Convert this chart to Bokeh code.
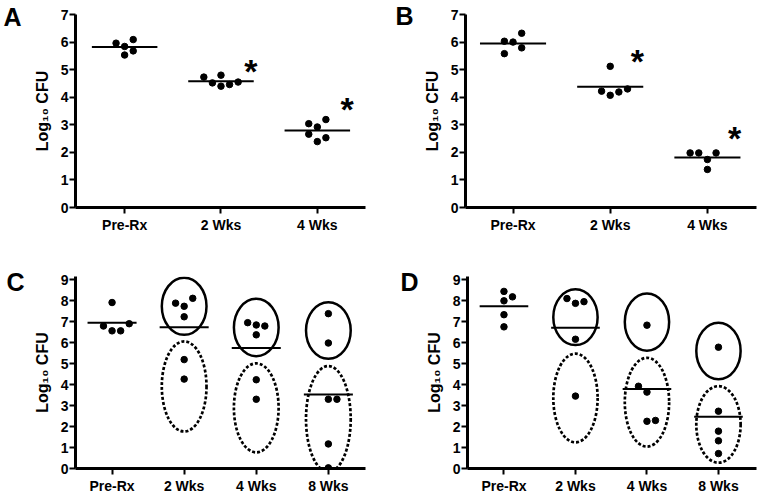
import numpy as np
from bokeh.plotting import figure
from bokeh.models import Range1d, FixedTicker
from bokeh.layouts import row, column
from bokeh.embed import file_html
from bokeh.resources import INLINE
from bokeh.core.properties import value

FONT = "Liberation Sans"

# ---------------- data ----------------
cats_ab = ["Pre-Rx", "2 Wks", "4 Wks"]
cats_cd = ["Pre-Rx", "2 Wks", "4 Wks", "8 Wks"]
y_label = "Log\u2081\u2080 CFU"
panel_letters = ["A", "B", "C", "D"]

# Panel A
a_pre = [5.96, 6.09, 5.84, 5.53, 5.68]
a_2wk = [4.73, 4.52, 4.80, 4.40, 4.46, 4.55]
a_4wk = [3.04, 2.92, 3.19, 2.66, 2.39, 2.53]
a_spread = [[-1, 1, 0, 0, 1], [-2, -1, 0, 0, 1, 2], [-1, 0, 1, -1, 0, 1]]
a_star_groups = [2, 3]
a_star_y = [5.18, 3.78]

# Panel B
b_pre = [6.03, 6.00, 6.32, 5.58, 5.79]
b_2wk = [5.12, 4.22, 4.07, 4.19, 4.30]
b_4wk = [1.98, 1.98, 1.74, 1.98, 1.38]
b_spread = [[-1, 0, 1, -1, 1], [0, -1, 0, 1, 2], [-2, -1, 0, 1, 0]]
b_star_groups = [2, 3]
b_star_y = [5.52, 2.74]

# Panel C
c_pre = [7.91, 6.79, 6.56, 6.56, 6.90]
c_2wk = [7.88, 7.73, 8.11, 7.23, 5.19, 4.26]
c_4wk = [6.95, 6.84, 6.79, 6.37, 4.23, 3.30]
c_8wk = [7.38, 5.98, 3.30, 3.30, 1.17, 0.03]
c_spread = [[0, -1, 0, 1, 2], [-1, 0, 1, 0, 0, 0], [-1, 0, 1, 0, 0, 0], [0, 0, 0, 1, 0, 0]]
c_ell_groups = [2, 3, 4]
c_resp_center = [7.73, 6.72, 6.58]
c_resp_height = [2.72, 2.74, 2.70]
c_nonresp_center = [3.91, 2.89, 2.36]
c_nonresp_height = [4.29, 4.24, 5.05]

# Panel D
d_pre = [8.44, 8.18, 7.99, 7.33, 6.75]
d_2wk = [8.10, 7.87, 7.95, 6.16, 3.45]
d_4wk = [6.83, 3.92, 3.64, 2.25, 2.29]
d_8wk = [5.78, 2.73, 1.78, 1.32, 0.71]
d_spread = [[0, 1, 0, 0, 0], [-1, 0, 1, 0, 0], [0, -1, 0, 0, 1], [0, 0, 0, 0, 0]]
d_ell_groups = [2, 3, 4]
d_resp_center = [7.21, 6.98, 5.60]
d_resp_height = [2.66, 2.73, 2.69]
d_nonresp_center = [3.36, 3.16, 2.10]
d_nonresp_height = [4.23, 4.23, 3.65]


def base_figure(width, height, xr, yr, yticks, cats, borders):
    bl, br, bt, bb = borders
    p = figure(width=width, height=height, x_range=Range1d(*xr), y_range=Range1d(*yr),
               output_backend="svg", toolbar_location=None,
               min_border_left=bl, min_border_right=br, min_border_top=bt, min_border_bottom=bb)
    p.title.visible = False
    p.outline_line_color = None
    p.grid.visible = False
    p.background_fill_color = "white"
    p.border_fill_color = "white"
    p.xaxis.ticker = FixedTicker(ticks=list(range(1, len(cats) + 1)))
    p.xaxis.major_label_overrides = {i + 1: c for i, c in enumerate(cats)}
    p.yaxis.ticker = FixedTicker(ticks=yticks)
    for ax in p.axis:
        ax.axis_line_width = 3
        ax.axis_line_color = "black"
        ax.major_tick_line_width = 2
        ax.major_tick_line_color = "black"
        ax.major_tick_out = 6
        ax.major_tick_in = 0
        ax.minor_tick_line_color = None
        ax.major_label_text_font = FONT
        ax.major_label_text_font_style = "bold"
        ax.major_label_text_font_size = "14px"
        ax.major_label_text_color = "black"
    p.xaxis.major_label_standoff = 3
    p.yaxis.major_label_standoff = 1
    p.yaxis.axis_label = y_label
    p.yaxis.axis_label_text_font = FONT
    p.yaxis.axis_label_text_font_style = "bold"
    p.yaxis.axis_label_text_font_size = "16px"
    p.yaxis.axis_label_text_color = "black"
    p.yaxis.axis_label_standoff = 7
    return p


def letter_figure(width, height, letter, border_left, top, bottom, center_px):
    # narrow strip whose only tick label is the panel letter; y range is in pixels from the top
    f = figure(width=width, height=height, x_range=Range1d(0, 1),
               y_range=Range1d(height - bottom, top),
               x_axis_location=None, y_axis_location="left",
               min_border_left=border_left, min_border_right=0,
               min_border_top=top, min_border_bottom=bottom,
               output_backend="svg", toolbar_location=None)
    f.title.visible = False
    f.outline_line_color = None
    f.grid.visible = False
    ax = f.yaxis[0]
    ax.ticker = FixedTicker(ticks=[center_px])
    ax.major_label_overrides = {center_px: letter}
    ax.axis_line_color = None
    ax.major_tick_line_color = None
    ax.minor_tick_line_color = None
    ax.major_tick_out = 0
    ax.major_tick_in = 0
    ax.major_label_standoff = 0
    ax.major_label_text_font = FONT
    ax.major_label_text_font_style = "bold"
    ax.major_label_text_font_size = "25px"
    ax.major_label_text_color = "black"
    return f


def add_points(p, groups, spreads, step, half_w):
    xs, ys = [], []
    for gi, (vals, spr) in enumerate(zip(groups, spreads)):
        for v, s in zip(vals, spr):
            xs.append(gi + 1 + s * step)
            ys.append(v)
    p.scatter(xs, ys, size=6.5, color="black", marker="circle")
    means = [float(np.mean(v)) for v in groups]
    gx = np.arange(1, len(groups) + 1)
    p.segment(x0=gx - half_w, y0=means, x1=gx + half_w, y1=means, line_color="black", line_width=2)


def add_stars(p, groups, ys, dx):
    p.text(x=[g + dx for g in groups], y=ys, text=["*"] * len(groups),
           text_font=value(FONT), text_font_style="bold", text_font_size="34px",
           text_align="center", text_baseline="middle", text_color="black", y_offset=6)


def add_ellipses(p, groups, rc, rh, nc, nh, w):
    p.ellipse(x=groups, y=rc, width=w, height=rh, fill_color=None,
              line_color="black", line_width=2.5)
    p.ellipse(x=groups, y=nc, width=w, height=nh, fill_color=None,
              line_color="black", line_width=2.7, line_dash="3 2")


# Panel A
fa = letter_figure(30, 240, panel_letters[0], 21, 14, 33, 16)
pa = base_figure(350, 240, (0.49, 3.5), (0, 7), list(range(0, 8)), cats_ab, (44, 15, 14, 33))
add_points(pa, [a_pre, a_2wk, a_4wk], a_spread, 0.089, 0.34)
add_stars(pa, a_star_groups, a_star_y, 0.31)

# Panel B
fb = letter_figure(40, 240, panel_letters[1], 33, 14, 33, 15)
pb = base_figure(339, 240, (0.511, 3.505), (0, 7), list(range(0, 8)), cats_ab, (44, 3, 14, 33))
add_points(pb, [b_pre, b_2wk, b_4wk], b_spread, 0.089, 0.34)
add_stars(pb, b_star_groups, b_star_y, 0.28)

# Panel C
fc = letter_figure(30, 256, panel_letters[2], 24, 36, 24, 42)
pc = base_figure(350, 256, (0.493, 4.515), (0, 9.15), list(range(0, 10)), cats_cd, (44, 15, 36, 24))
add_ellipses(pc, c_ell_groups, c_resp_center, c_resp_height, c_nonresp_center, c_nonresp_height, 0.62)
add_points(pc, [c_pre, c_2wk, c_4wk, c_8wk], c_spread, 0.119, 0.34)

# Panel D
fd = letter_figure(42, 256, panel_letters[3], 38, 36, 24, 42)
pd = base_figure(337, 256, (0.49, 4.532), (0, 9.15), list(range(0, 10)), cats_cd, (43, 3, 36, 24))
add_ellipses(pd, d_ell_groups, d_resp_center, d_resp_height, d_nonresp_center, d_nonresp_height, 0.62)
add_points(pd, [d_pre, d_2wk, d_4wk, d_8wk], d_spread, 0.119, 0.34)

layout = column(row(fa, pa, fb, pb), row(fc, pc, fd, pd))
open("out.html", "w").write(file_html(layout, INLINE))
